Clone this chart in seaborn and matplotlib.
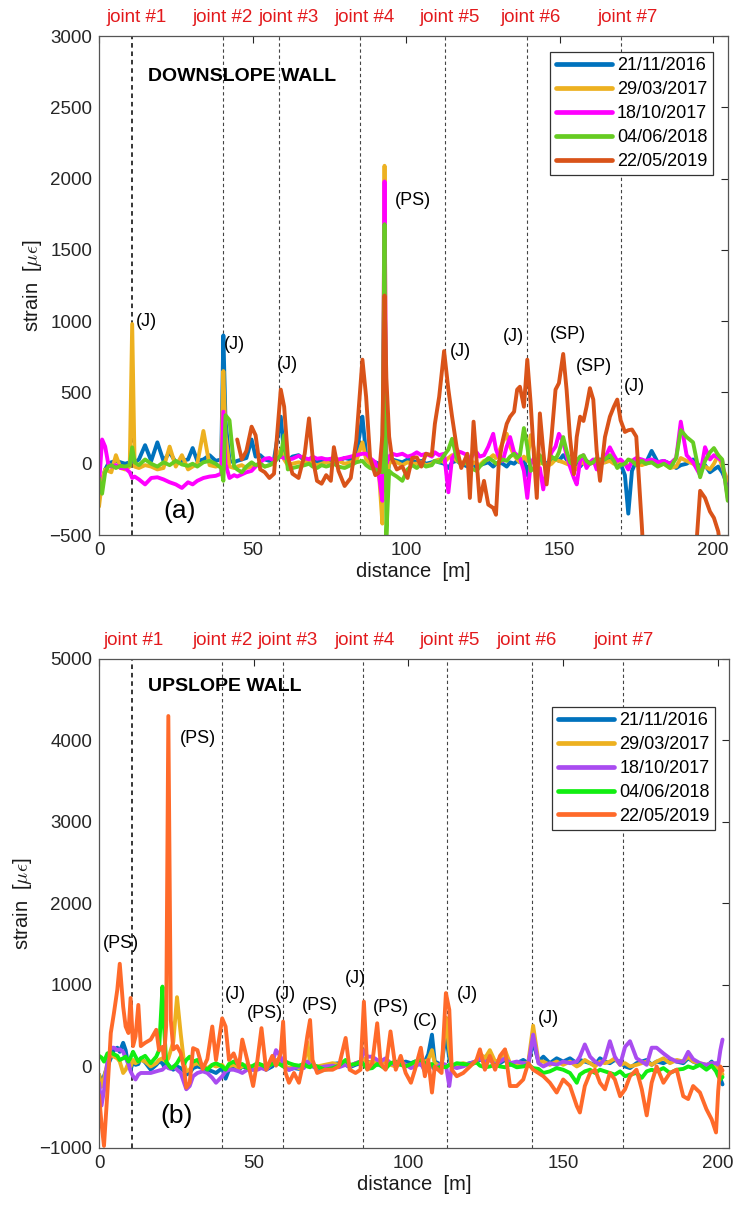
import matplotlib
matplotlib.use("Agg")
import matplotlib.pyplot as plt
import matplotlib.transforms as mtransforms
import pandas as pd
import seaborn as sns

# ---- data ---------------------------------------------------------------
DATES = ["21/11/2016", "29/03/2017", "18/10/2017", "04/06/2018", "22/05/2019"]
JOINT_NAMES = ["joint #1", "joint #2", "joint #3", "joint #4", "joint #5", "joint #6", "joint #7"]

# (a) downslope wall
DOWN_JOINTS = [10.7, 40.4, 58.6, 85.0, 112.7, 139.4, 170.0]
DOWN_JOINT_LABEL_X = [12.1, 40.4, 61.9, 86.6, 114.3, 140.7, 172.3]
DOWN_DIST = [
    0, 1, 2, 3, 4, 5.5, 7, 8.5, 10, 10.8,
    11.6, 13, 15, 17, 19, 21, 23, 25, 27, 29,
    30.5, 32, 34, 36, 38, 39.8, 40.5, 41.2, 42.5, 44,
    45, 46.5, 48, 49.7, 51, 52.5, 54, 55.5, 57, 59.2,
    60.3, 61.5, 63, 65, 67, 68.4, 69.6, 71, 72.5, 74,
    75.5, 76.5, 78, 80, 82, 83.8, 85.8, 87, 88.3, 90,
    91.3, 92.3, 93, 93.6, 94.5, 95.5, 97, 98.8, 100.5, 102,
    103.5, 105, 106.5, 108.4, 109.4, 110.8, 112.4, 113.8, 115, 116.5,
    118, 120, 120.8, 122, 123, 124, 125.4, 126.8, 128.4, 129.3,
    130.2, 131.5, 132.8, 133.9, 135.2, 136.2, 137.1, 138.4, 139.5, 140.6,
    141.7, 142.6, 143.6, 144.7, 145.8, 147.4, 148.7, 149.8, 151.2, 152.3,
    153.4, 154.7, 155.6, 156.7, 157.8, 158.8, 159.9, 161, 162.1, 163.2,
    164.8, 166.4, 167.7, 168.8, 169.9, 171.3, 172.4, 173.6, 175, 176.8,
    178, 180, 182, 184, 186, 188, 189.5, 191.4, 193.5, 195.8,
    197.4, 199, 200.3, 201.7, 203, 204.8,
]
DOWN_2016 = [
    -200, -120, -40, 0, 10, 20, 10, 0, 10, 20,
    10, 30, 130, 20, 150, 20, 80, 10, 20, 30,
    110, 20, 30, 60, 20, 30, 900, 300, 20, 10,
    20, 30, 40, 170, 50, 60, 30, 20, 30, 330,
    60, 20, 50, 60, 20, 30, 20, 10, 20, 30,
    20, 10, 20, 40, 30, 60, 330, 60, 20, 10,
    0, -50, 1500, -200, 20, 30, 20, 10, 30, 20,
    10, 20, 0, 10, 20, 10, 0, -30, 10, 20,
    0, -20, 10, 0, -30, -10, 0, 10, -20, 0,
    10, 0, -20, 10, 0, 20, 10, 40, -80, 10,
    20, 10, 30, 20, 0, 30, 40, 20, 60, 30,
    20, 10, 0, -20, 10, 20, 0, 10, 20, 30,
    10, 30, 20, 10, 0, -80, -350, -50, 20, 10,
    0, 90, 10, 20, 0, -30, -10, 0, 30, -20,
    -10, -60, -40, -20, -60, -150,
]
DOWN_2017A = [
    -300, -120, -40, -50, -60, 60, -30, -40, -20, 980,
    -20, -30, -10, -20, -40, -30, 120, -20, 60, -40,
    -20, 0, 230, -10, -20, -10, 650, 200, -20, -30,
    -20, -10, -30, -20, -10, 0, -20, -10, 0, 100,
    30, -10, 0, 10, 0, 30, 0, -10, 0, 10,
    0, 10, 20, 0, 10, 20, 150, 30, 0, -20,
    -100, -420, 2090, -100, 0, 20, 10, -10, 10, 0,
    0, 10, -10, 0, 20, 30, 10, 40, 60, 20,
    10, 0, -20, 10, 0, -10, 20, 30, 60, 40,
    80, 150, 210, 120, 60, 30, 10, 50, 20, 200,
    100, -10, 0, 10, -20, 0, 30, 20, 10, 0,
    -10, -30, -40, 0, 10, -20, 0, 10, -10, 0,
    10, 20, 0, 10, 20, 0, -20, 10, 0, -10,
    0, 10, -10, 0, -30, -20, 40, 20, 0, -30,
    -20, -40, 0, 60, -20, -120,
]
DOWN_2017B = [
    -150, 170, 120, 0, -20, -10, -30, -30, -60, -100,
    -90, -110, -145, -100, -95, -110, -130, -145, -170, -130,
    -145, -120, -100, -90, -85, -70, 365, 0, -100, -80,
    -90, -75, -60, -50, -20, 10, 35, 40, 20, 50,
    40, 30, 35, 55, 40, 30, 50, 35, 40, 30,
    35, 40, 30, 40, 50, 60, 70, 70, 40, 10,
    -100, -260, 1980, 0, 50, 70, 60, 70, 50, 60,
    80, 60, 70, 50, 80, 60, 70, -200, 40, 90,
    80, 60, 30, 70, 80, 50, 60, 120, 210, 100,
    50, 20, 120, 187, 80, 60, 40, -50, -240, 0,
    40, -50, -30, -180, -40, 80, 120, 210, 150, 60,
    -20, -100, -145, 20, 60, -30, 10, 30, -40, -10,
    40, 115, 60, 20, 30, 0, -40, 20, 40, 30,
    20, 30, 10, 20, 0, 40, 295, 60, 10, -80,
    116, 30, 60, 40, 20, -240,
]
DOWN_2018 = [
    -100, -210, -60, -20, -10, -30, -15, -20, -10, 115,
    10, -10, 30, 0, -20, 10, -10, 20, -5, -15,
    0, -20, 10, 20, 0, -30, -120, 340, 305, -20,
    -40, -60, -20, 10, -10, 0, -20, -10, 10, 60,
    200, -40, -30, -20, -10, 0, -20, -30, -10, -20,
    -10, 0, -20, -30, -10, 10, 20, -10, -30, -40,
    -50, -60, 1680, -500, -50, -70, -90, -120, -40, -10,
    -30, 0, -20, -10, 20, 10, 60, 100, 175, 40,
    -10, 20, -30, -40, -50, -20, 10, 40, 20, 0,
    10, 30, 20, 50, 70, 40, 60, 250, 120, -50,
    -30, 20, 60, 0, -20, 50, 30, 80, 187, 90,
    10, -10, 20, 50, 60, 20, 0, 10, 40, 20,
    30, 60, 20, -30, -10, 0, 30, 20, -10, 20,
    0, 10, -20, 0, -30, 40, 235, 187, 150, -95,
    20, 80, 110, 60, 30, -260,
]
DOWN_2019 = [None] * 30 + [
    170, 30, 90, 260, 200, -40, -60, -100, -70, 520,
    400, 50, -70, -100, 70, 318, 40, -120, -140, -80,
    -120, 116, -50, -156, -100, 163, 730, 470, 40, -80,
    -60, 200, 1180, 600, 190, 30, -40, -20, -100, 40,
    45, -20, 70, 60, 280, 470, 790, 520, 330, 115,
    -30, 70, -240, 295, 20, -263, -120, -287, -310, -358,
    0, 163, 280, 330, 365, 520, 540, 400, 730, 424,
    45, -240, 353, 90, -145, 190, 520, 565, 770, 520,
    187, -73, 187, 330, 300, 400, 530, 450, 90, -120,
    187, 330, 400, 450, 305, 223, 235, 240, 190, -430,
    -900, -1200, -1200, -1200, -1200, -1200, -1200, -1000, -900, -190,
    -240, -335, -380, -475, -700, -900,
]
DOWN_NOTES = ["(J)", "(J)", "(J)", "(PS)", "(J)", "(J)", "(SP)", "(SP)", "(J)"]
DOWN_NOTE_X = [12.0, 40.7, 58.0, 96.4, 114.3, 131.6, 146.9, 155.4, 171.0]
DOWN_NOTE_Y = [1000, 838, 696, 1846, 788, 895, 909, 682, 540]

# (b) upslope wall
UP_JOINTS = [10.7, 39.7, 59.5, 85.3, 112.4, 140.0, 169.3]
UP_JOINT_LABEL_X = [11.3, 40.1, 61.1, 85.9, 113.4, 138.3, 169.6]
UP_DIST = [
    0, 0.8, 1.6, 2.7, 3.8, 4.8, 5.9, 6.7, 7.8, 8.6,
    9.5, 10.2, 11, 11.8, 12.7, 13.5, 14.9, 16.7, 18.5, 19.4,
    20.5, 21, 21.7, 22.4, 23.2, 24, 25.2, 26.4, 27.5, 28.2,
    29.3, 30.4, 31.8, 33.5, 35, 36.6, 37.8, 39.8, 40.9, 42,
    43.5, 45.2, 46.3, 47.9, 49.8, 51.2, 52.5, 54, 56, 57.2,
    58.7, 59.5, 60.3, 61.4, 63, 64.6, 66.2, 67.3, 68.2, 69,
    70.5, 73, 75.5, 77.5, 79.7, 81, 82.9, 84.5, 85.6, 86.7,
    88.3, 89.9, 91, 92.6, 94.2, 95.9, 97.5, 99.1, 100.8, 102.1,
    104, 105.3, 106.4, 107.6, 108.5, 110.7, 112.1, 113.2, 114, 115.6,
    117.7, 119.9, 122, 123.1, 124.7, 126.3, 128, 129.6, 131.2, 132.8,
    135, 137.1, 138.7, 140.3, 142, 143.6, 145.7, 147.9, 150, 152.2,
    154.4, 155.4, 157, 158.7, 160.3, 161.9, 163.5, 165.1, 166.7, 168.4,
    170, 171.6, 173.7, 175.4, 177, 178.6, 180.2, 182.4, 184.5, 186.7,
    188.8, 190.4, 192, 194.2, 196.3, 198, 199.4, 200.1, 200.8, 201.5,
]
UP_2016 = [
    -100, -200, -120, 0, 100, 200, 230, 180, 290, 200,
    0, -40, 60, 20, 30, 100, 50, -40, 20, 60,
    40, 0, 60, 20, -20, -40, 0, -20, -60, -100,
    -80, -20, 0, -20, -40, -60, -80, -20, -150, -40,
    -20, -40, 0, -20, -40, -20, -10, -40, 0, 60,
    30, 20, -20, -40, -20, -30, 0, 40, 20, 10,
    -40, -20, 30, 40, 20, -10, 20, 40, 80, 60,
    40, 20, 60, 80, 40, 0, 40, 60, 40, 60,
    20, 60, 150, 390, 60, 20, 400, 100, 0, 20,
    20, 40, 60, 80, 120, 80, 60, 40, 80, 20,
    40, 80, 40, 300, 60, 120, 40, 100, 60, 100,
    40, 80, 60, 40, 20, 100, 60, 40, 80, 60,
    0, -20, 40, 60, 80, 20, 60, 40, 80, 60,
    40, 100, 60, 20, 0, 60, -20, -80, -150, -220,
]
UP_2017A = [
    -100, -250, -150, 40, 150, 120, 100, 60, -80, -40,
    40, 0, 80, 40, 60, 80, 60, 0, 40, 80,
    100, 80, 60, 100, 200, 300, 850, 400, 40, -60,
    -40, 20, 40, 0, -20, 20, 0, 20, -40, 0,
    20, -20, 0, 20, -20, 0, 20, 0, 40, 80,
    60, 20, 0, -20, 0, -20, 20, 300, 40, 20,
    0, 20, 40, 20, 40, 0, 40, 60, 100, 40,
    60, 40, 40, 60, 20, 0, 40, 20, 0, 40,
    40, 60, 80, 200, 40, 0, 600, 200, 0, 20,
    40, 20, 60, 160, 100, 200, 60, 80, 200, 40,
    20, 40, 40, 500, 60, 60, 20, 60, 20, 60,
    0, 20, 80, 40, 0, 60, 40, 60, 100, 20,
    40, 0, 20, 40, 60, 20, 60, 100, 40, 80,
    60, 120, 60, 40, 20, 40, 0, -20, -40, -100,
]
UP_2017B = [
    -200, -480, -300, 60, 230, 230, 200, 210, 180, 100,
    40, -60, -120, -160, -100, -80, -80, -80, -60, -50,
    -40, -20, 0, -20, -30, 0, -40, -80, -200, -280,
    -240, -120, -80, -60, -80, -140, -200, -120, -60, -40,
    -40, -60, -80, -40, -40, -40, -20, -40, 40, 200,
    120, 40, -20, -40, -20, 0, -20, 60, 20, 0,
    -20, 0, 10, -10, 20, 0, 40, 60, 200, 120,
    120, 80, 60, 100, 40, 20, 60, 20, -20, 0,
    40, -60, 20, 0, -40, 40, 20, -240, 0, -20,
    0, 40, 60, 100, 50, 80, 20, 60, 100, 40,
    60, 40, 20, 390, 40, 0, 40, 20, 60, 40,
    60, 120, 270, 120, 60, 20, 100, 310, 120, 20,
    240, 310, 100, 60, 20, 230, 230, 160, 100, 60,
    60, 180, 90, 40, 20, 40, 40, 20, 200, 330,
]
UP_2018 = [
    130, 110, 60, 160, 170, 150, 130, 80, 100, 120,
    60, 110, 180, 120, 60, 100, 130, 40, 120, 200,
    980, 500, 60, 20, -20, -10, 40, 120, 30, 80,
    120, 60, 80, 0, -40, 20, 40, 0, -40, 30,
    60, 20, 30, -20, 10, 40, 20, -10, 30, 50,
    20, 0, 60, 40, 20, 10, 30, 0, -10, 20,
    0, -40, -20, 10, 80, 20, 30, 60, 20, -30,
    -20, 30, 10, -30, 40, 60, 20, 0, 30, 60,
    80, 40, 20, 30, -30, 0, -10, 20, 10, 40,
    30, 20, 50, 10, -10, 0, 20, 0, -10, 30,
    -10, 0, 20, -20, -30, -80, -60, -20, -40, -80,
    -200, -100, -60, -40, -80, -40, -60, -80, -100, -60,
    -120, -100, -80, -140, -60, -40, -60, -20, -80, -40,
    -30, 0, -20, 20, -40, 10, -60, -120, -160, -130,
]
UP_2019 = [
    -350, -700, -975, -320, 410, 650, 940, 1260, 735, 490,
    410, 840, 250, 370, 755, 250, 290, 330, 450, 200,
    240, 100, 500, 4300, 570, 210, 250, 165, -35, -260,
    -200, 225, 200, -30, 90, 490, 80, 590, 490, 80,
    160, -10, 330, 80, -240, 80, 470, -40, 130, 10,
    160, 550, -80, -200, -80, -200, 80, 370, 570, 80,
    -80, -40, -40, 0, 350, -40, -80, -40, 795, -40,
    40, 530, 40, -40, 430, -40, 130, -80, -200, -40,
    230, -120, 80, -320, 0, -80, 900, 695, -40, -120,
    -80, 0, 80, 210, -40, 130, -40, 130, 210, -240,
    -240, -160, 40, -40, -80, -120, -200, -320, -160, -240,
    -485, -565, -240, -80, -40, -200, -280, -80, -160, -365,
    -280, -120, -40, -280, -600, -200, 0, -200, -80, -40,
    -365, -400, -240, -320, -525, -650, -810, -300, 0, -50,
]
UP_NOTES = ["(PS)", "(PS)", "(J)", "(PS)", "(J)", "(PS)", "(J)", "(PS)", "(C)", "(J)", "(J)"]
UP_NOTE_X = [1.3, 26.2, 40.7, 47.8, 56.9, 65.6, 79.5, 88.5, 101.5, 115.7, 141.8]
UP_NOTE_Y = [1513, 4026, 878, 647, 878, 744, 1074, 720, 549, 878, 586]

DOWN_COLORS = ["#0072BD", "#EDB120", "#FF00FF", "#66CC22", "#D95319"]
UP_COLORS = ["#0072BD", "#EDB120", "#A94CF0", "#11EE11", "#FF6A2A"]
JOINT_RED = "#E3191C"


def long_frame(dist, series):
    rows = []
    for label, vals in zip(DATES, series):
        if len(vals) != len(dist):
            print(f"warning: {label} has {len(vals)} values for {len(dist)} distances")
        for d, v in zip(dist, vals):
            if v is not None:
                rows.append((d, v, label))
    return pd.DataFrame(rows, columns=["distance", "strain", "date"])


def draw_panel(ax, df, colors, joints, joint_label_x, notes, note_x, note_y,
               xlim, ylim, yticks, title, title_xy, tag, tag_xy, legend_anchor):
    sns.lineplot(data=df, x="distance", y="strain", hue="date", hue_order=DATES,
                 palette=colors, estimator=None, linewidth=2.8, ax=ax, legend=True)

    for i, xj in enumerate(joints):
        ax.axvline(xj, color="black" if i == 0 else "#444444", lw=1.1 if i == 0 else 0.8,
                   ls=(0, (3, 2.5)), zorder=1.5)
    trans = mtransforms.blended_transform_factory(ax.transData, ax.transAxes)
    for name, xl in zip(JOINT_NAMES, joint_label_x):
        ax.text(xl, 1.037, name, transform=trans, ha="center", va="center",
                color=JOINT_RED, fontsize=13.5, clip_on=False)

    for txt, xn, yn in zip(notes, note_x, note_y):
        ax.text(xn, yn, txt, ha="left", va="center", fontsize=13, color="black", zorder=5)
    ax.text(title_xy[0], title_xy[1], title, ha="left", va="center",
            fontsize=14, fontweight="bold", color="black")
    ax.text(tag_xy[0], tag_xy[1], tag, ha="left", va="center", fontsize=19, color="black")

    ax.set_xlim(*xlim)
    ax.set_ylim(*ylim)
    ax.set_xticks([0, 50, 100, 150, 200])
    ax.set_yticks(yticks)
    ax.set_xlabel("distance  [m]", fontsize=14.5, labelpad=2)
    ax.set_ylabel(r"strain  [$\mu\epsilon$]", fontsize=14.5, labelpad=4)
    ax.tick_params(direction="in", length=5, width=0.8, labelsize=13.5, colors="#262626",
                   top=True, right=True, pad=5)
    for sp in ax.spines.values():
        sp.set_color("#555555")
        sp.set_linewidth(0.9)

    handles, labels = ax.get_legend_handles_labels()
    leg = ax.legend(handles, labels, loc="upper right", bbox_to_anchor=legend_anchor,
                    borderaxespad=0, fontsize=13, handlelength=3.1, handletextpad=0.3,
                    labelspacing=0.38, borderpad=0.3, fancybox=False, framealpha=1,
                    edgecolor="#333333")
    leg.get_frame().set_linewidth(0.9)
    for line in leg.get_lines():
        line.set_linewidth(3.4)


sns.set_style("white")
plt.rcParams["font.family"] = ["Liberation Sans", "DejaVu Sans"]
plt.rcParams["mathtext.fontset"] = "cm"
plt.rcParams["text.color"] = "black"
plt.rcParams["axes.labelcolor"] = "#1a1a1a"

fig = plt.figure(figsize=(7.39, 12.14), dpi=100)
ax_top = fig.add_axes([0.134, 0.5593, 0.8512, 0.4110])
ax_bot = fig.add_axes([0.134, 0.0544, 0.8525, 0.4028])

down_df = long_frame(DOWN_DIST, [DOWN_2016, DOWN_2017A, DOWN_2017B, DOWN_2018, DOWN_2019])
up_df = long_frame(UP_DIST, [UP_2016, UP_2017A, UP_2017B, UP_2018, UP_2019])

draw_panel(ax_top, down_df, DOWN_COLORS, DOWN_JOINTS, DOWN_JOINT_LABEL_X,
           DOWN_NOTES, DOWN_NOTE_X, DOWN_NOTE_Y, (0, 204.9), (-500, 3000),
           [-500, 0, 500, 1000, 1500, 2000, 2500, 3000],
           "DOWNSLOPE WALL", (16.0, 2719), "(a)", (20.8, -334), (0.976, 0.968))
draw_panel(ax_bot, up_df, UP_COLORS, UP_JOINTS, UP_JOINT_LABEL_X,
           UP_NOTES, UP_NOTE_X, UP_NOTE_Y, (0, 203.6), (-1000, 5000),
           [-1000, 0, 1000, 2000, 3000, 4000, 5000],
           "UPSLOPE WALL", (15.8, 4660), "(b)", (19.7, -610), (0.978, 0.902))

fig.savefig("out.png", dpi=100)
